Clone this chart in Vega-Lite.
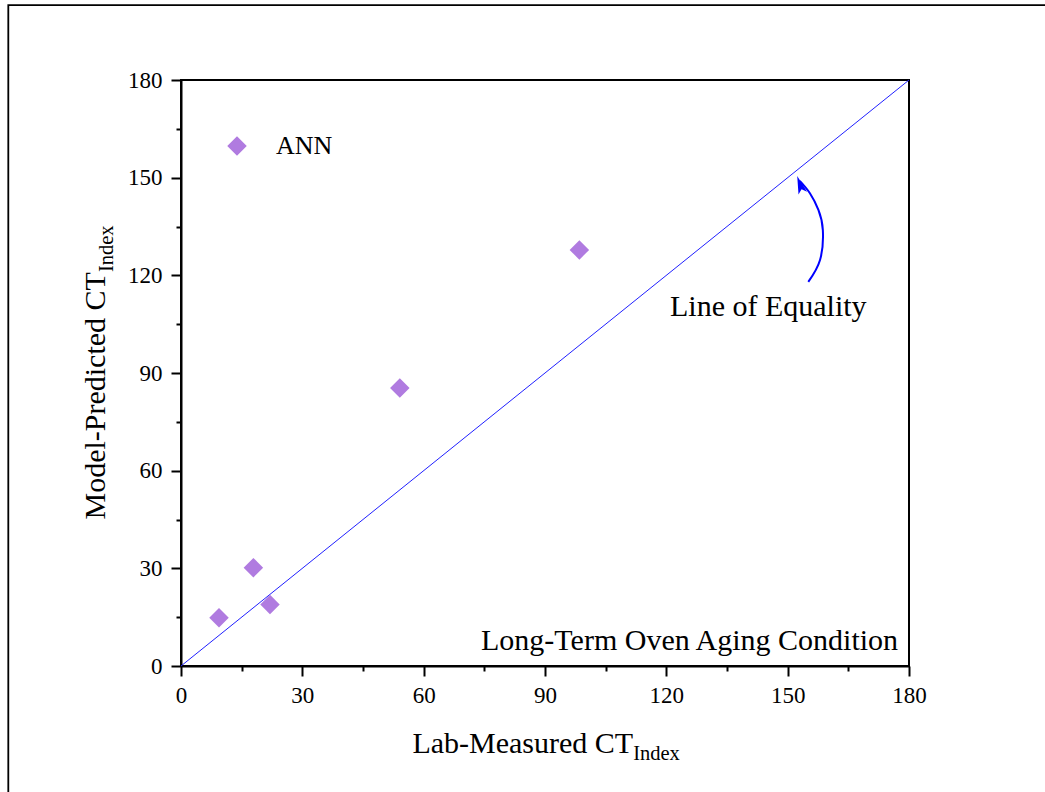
{
  "$schema": "https://vega.github.io/schema/vega-lite/v6.json",
  "width": 728,
  "height": 586,
  "autosize": {"type": "none"},
  "padding": {"left": 181, "top": 80, "right": 136, "bottom": 126},
  "background": "white",
  "config": {
    "view": {"stroke": "black", "strokeWidth": 2},
    "font": "Liberation Serif",
    "axis": {
      "grid": false,
      "domainColor": "black",
      "domainWidth": 2,
      "tickColor": "black",
      "tickWidth": 2,
      "labelFont": "Liberation Serif",
      "labelFontSize": 23,
      "labelColor": "black",
      "labelOverlap": false,
      "labelFlush": false,
      "title": null
    }
  },
  "datasets": {
    "predictions": [
      {"measured": 9.4, "predicted": 14.8, "model": "ANN"},
      {"measured": 17.9, "predicted": 30.2, "model": "ANN"},
      {"measured": 22.0, "predicted": 18.9, "model": "ANN"},
      {"measured": 54.1, "predicted": 85.4, "model": "ANN"},
      {"measured": 98.5, "predicted": 127.8, "model": "ANN"}
    ],
    "equality": [
      {"measured": 0, "predicted": 0},
      {"measured": 180, "predicted": 180}
    ],
    "pointer": [
      {"k": 1, "measured": 155.1, "predicted": 118.0},
      {"k": 2, "measured": 158.0, "predicted": 124.7},
      {"k": 3, "measured": 158.7, "predicted": 133.9},
      {"k": 4, "measured": 157.6, "predicted": 140.1},
      {"k": 5, "measured": 155.5, "predicted": 145.2},
      {"k": 6, "measured": 153.0, "predicted": 149.0}
    ],
    "pointerHead": [
      {"measured": 153.05, "predicted": 147.9}
    ],
    "frame": [
      {"x1": -42.7, "x2": 260, "y1": 203.0, "y2": -60}
    ],
    "notes": [
      {"measured": 120.9, "predicted": 107.6, "text": "Line of Equality", "align": "left"},
      {"measured": 177.3, "predicted": 4.9, "text": "Long-Term Oven Aging Condition", "align": "right"}
    ],
    "xTitle": [{"measured": 111.8, "predicted": -26.6, "text": "Lab-Measured CT"}],
    "xTitleSub": [{"measured": 111.8, "predicted": -28.9, "text": "Index"}],
    "yTitle": [{"measured": -18.8, "predicted": 121.0, "text": "Model-Predicted CT"}],
    "yTitleSub": [{"measured": -16.7, "predicted": 121.0, "text": "Index"}]
  },
  "layer": [
    {
      "data": {"name": "frame"},
      "mark": {"type": "rect", "fill": null, "stroke": "black", "strokeWidth": 1.8},
      "encoding": {
        "x": {"field": "x1", "type": "quantitative", "scale": {"domain": [0, 180], "nice": false, "zero": false}},
        "x2": {"field": "x2"},
        "y": {"field": "y1", "type": "quantitative", "scale": {"domain": [0, 180], "nice": false, "zero": false}},
        "y2": {"field": "y2"}
      }
    },
    {
      "data": {"name": "equality"},
      "mark": {"type": "line", "color": "#2020ff", "strokeWidth": 1},
      "encoding": {
        "x": {
          "field": "measured", "type": "quantitative",
          "axis": {
            "values": [0, 15, 30, 45, 60, 75, 90, 105, 120, 135, 150, 165, 180],
            "labelExpr": "datum.value % 30 === 0 ? datum.label : ''",
            "tickSize": {"condition": {"test": "datum.value % 30 === 0", "value": 10}, "value": 5},
            "labelPadding": 8
          }
        },
        "y": {
          "field": "predicted", "type": "quantitative",
          "axis": {
            "values": [0, 15, 30, 45, 60, 75, 90, 105, 120, 135, 150, 165, 180],
            "labelExpr": "datum.value % 30 === 0 ? datum.label : ''",
            "tickSize": {"condition": {"test": "datum.value % 30 === 0", "value": 10}, "value": 5},
            "labelPadding": 9
          }
        }
      }
    },
    {
      "data": {"name": "predictions"},
      "mark": {"type": "point", "shape": "diamond", "filled": true, "size": 380, "opacity": 1},
      "encoding": {
        "x": {"field": "measured", "type": "quantitative"},
        "y": {"field": "predicted", "type": "quantitative"},
        "color": {
          "field": "model", "type": "nominal",
          "scale": {"domain": ["ANN"], "range": ["#b07be0"]},
          "legend": {
            "title": null,
            "orient": "none",
            "legendX": 43,
            "legendY": 53,
            "padding": 0,
            "symbolSize": 380,
            "symbolType": "diamond",
            "symbolStrokeWidth": 0,
            "labelFont": "Liberation Serif",
            "labelFontSize": 26,
            "labelColor": "black",
            "labelOffset": 26
          }
        }
      }
    },
    {
      "data": {"name": "pointer"},
      "mark": {"type": "line", "color": "#0000ff", "strokeWidth": 2, "interpolate": "natural"},
      "encoding": {
        "x": {"field": "measured", "type": "quantitative"},
        "y": {"field": "predicted", "type": "quantitative"},
        "order": {"field": "k"}
      }
    },
    {
      "data": {"name": "pointerHead"},
      "mark": {
        "type": "point",
        "shape": "M0,-1L0.5,1L0,0.55L-0.5,1Z",
        "filled": true,
        "color": "#0000ff",
        "opacity": 1,
        "size": 324,
        "angle": 342
      },
      "encoding": {
        "x": {"field": "measured", "type": "quantitative"},
        "y": {"field": "predicted", "type": "quantitative"}
      }
    },
    {
      "data": {"name": "notes"},
      "transform": [{"filter": "datum.align === 'left'"}],
      "mark": {"type": "text", "align": "left", "baseline": "alphabetic", "fontSize": 30, "color": "black"},
      "encoding": {
        "x": {"field": "measured", "type": "quantitative"},
        "y": {"field": "predicted", "type": "quantitative"},
        "text": {"field": "text"}
      }
    },
    {
      "data": {"name": "notes"},
      "transform": [{"filter": "datum.align === 'right'"}],
      "mark": {"type": "text", "align": "right", "baseline": "alphabetic", "fontSize": 30, "color": "black"},
      "encoding": {
        "x": {"field": "measured", "type": "quantitative"},
        "y": {"field": "predicted", "type": "quantitative"},
        "text": {"field": "text"}
      }
    },
    {
      "data": {"name": "xTitle"},
      "mark": {"type": "text", "align": "right", "baseline": "alphabetic", "fontSize": 30, "color": "black"},
      "encoding": {
        "x": {"field": "measured", "type": "quantitative"},
        "y": {"field": "predicted", "type": "quantitative"},
        "text": {"field": "text"}
      }
    },
    {
      "data": {"name": "xTitleSub"},
      "mark": {"type": "text", "align": "left", "baseline": "alphabetic", "fontSize": 20.5, "color": "black"},
      "encoding": {
        "x": {"field": "measured", "type": "quantitative"},
        "y": {"field": "predicted", "type": "quantitative"},
        "text": {"field": "text"}
      }
    },
    {
      "data": {"name": "yTitle"},
      "mark": {"type": "text", "align": "right", "baseline": "alphabetic", "fontSize": 30, "angle": 270, "color": "black"},
      "encoding": {
        "x": {"field": "measured", "type": "quantitative"},
        "y": {"field": "predicted", "type": "quantitative"},
        "text": {"field": "text"}
      }
    },
    {
      "data": {"name": "yTitleSub"},
      "mark": {"type": "text", "align": "left", "baseline": "alphabetic", "fontSize": 20.5, "angle": 270, "color": "black"},
      "encoding": {
        "x": {"field": "measured", "type": "quantitative"},
        "y": {"field": "predicted", "type": "quantitative"},
        "text": {"field": "text"}
      }
    }
  ]
}
